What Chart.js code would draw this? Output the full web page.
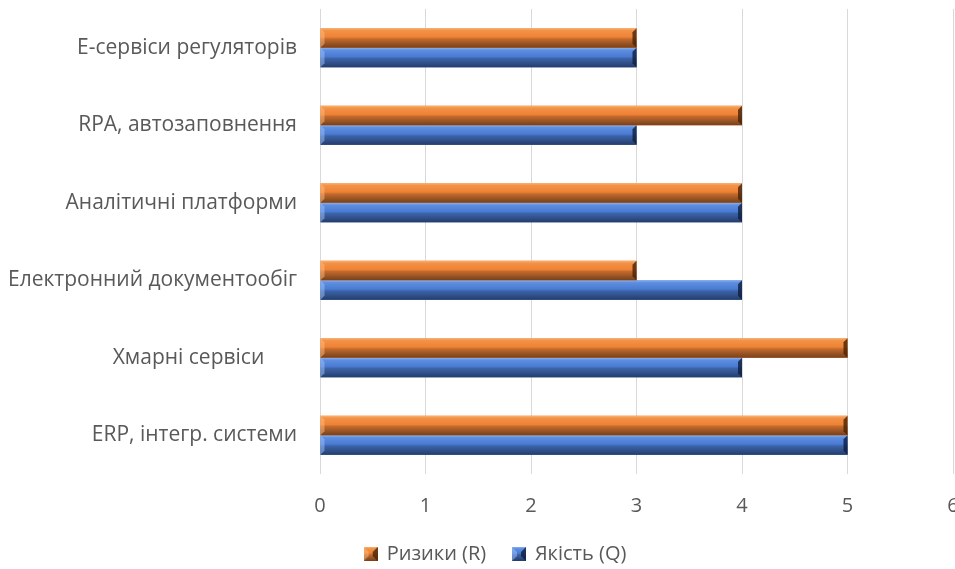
<!DOCTYPE html>
<html>
<head>
<meta charset="utf-8">
<script src="https://cdn.jsdelivr.net/npm/chart.js@4.4.1/dist/chart.umd.min.js"></script>
<style>
    html, body { margin: 0; padding: 0; overflow: hidden; background: #fff; }
    #wrap { width: 955px; height: 574px; }
</style>
</head>
<body>
<div id="wrap"><canvas id="c"></canvas></div>
<script>
// дані
const categories = ['Е-сервіси регуляторів', 'RPA, автозаповнення', 'Аналітичні платформи', 'Електронний документообіг', 'Хмарні сервіси      ', 'ERP, інтегр. системи'];
const risks = [3, 4, 4, 3, 5, 5];
const quality = [3, 3, 4, 4, 4, 5];
const seriesNames = ['Ризики (R)', 'Якість (Q)'];
const xMin = 0, xMax = 6, xStep = 1;

const FONT = '"Open Sans", sans-serif';
const TXT = '#595959';

// відтінки для об'ємного ефекту
const shades = [
    { base: '#ED7D31', stops: ['#F9B477', '#F39245', '#EE8236', '#C46A2C', '#8E4E22', '#7A4019'], lite: 'rgba(255,190,130,0.5)', dark: 'rgba(70,35,10,0.8)' },
    { base: '#4472C4', stops: ['#8DB3F0', '#5D8EE0', '#4A7BD3', '#3C63A8', '#2C4A80', '#233C6A'], lite: 'rgba(160,195,250,0.5)', dark: 'rgba(15,30,60,0.8)' }
];
const stopPos = [0, 0.12, 0.45, 0.55, 0.85, 1];

function paintBevel(ctx, left, top, w, h, s, b) {
    const g = ctx.createLinearGradient(0, top, 0, top + h);
    s.stops.forEach((c, i) => g.addColorStop(stopPos[i], c));
    ctx.fillStyle = g;
    ctx.fillRect(left, top, w, h);
    const right = left + w, bottom = top + h;
    ctx.fillStyle = s.lite;
    ctx.beginPath();
    ctx.moveTo(left, top); ctx.lineTo(left + b, top + b); ctx.lineTo(left + b, bottom - b); ctx.lineTo(left, bottom);
    ctx.closePath(); ctx.fill();
    ctx.fillStyle = s.dark;
    ctx.beginPath();
    ctx.moveTo(right, top); ctx.lineTo(right - b, top + b); ctx.lineTo(right - b, bottom - b); ctx.lineTo(right, bottom);
    ctx.closePath(); ctx.fill();
}

function legendIcon(s) {
    const cv = document.createElement('canvas');
    cv.width = 14; cv.height = 14;
    paintBevel(cv.getContext('2d'), 0, 0, 14, 14, s, 5);
    return cv;
}

const bevel = {
    id: 'bevel',
    afterDatasetDraw(chart, args) {
        const ctx = chart.ctx;
        const s = shades[args.index];
        ctx.save();
        args.meta.data.forEach(bar => {
            const p = bar.getProps(['x', 'y', 'base', 'height'], true);
            const top = p.y - p.height / 2;
            paintBevel(ctx, p.base, top, p.x - p.base, p.height, s, 4);
        });
        ctx.restore();
    }
};

// легенда в Excel трохи правіше центру
const legendShift = {
    id: 'legendShift',
    afterLayout(chart) {
        if (chart.legend) { chart.legend.left += 14; chart.legend.right += 14; }
    }
};

new Chart(document.getElementById('c'), {
    type: 'bar',
    data: {
        labels: categories,
        datasets: [
            { label: seriesNames[0], data: risks, backgroundColor: shades[0].base, borderWidth: 0, pointStyle: legendIcon(shades[0]) },
            { label: seriesNames[1], data: quality, backgroundColor: shades[1].base, borderWidth: 0, pointStyle: legendIcon(shades[1]) }
        ]
    },
    options: {
        indexAxis: 'y',
        responsive: true,
        maintainAspectRatio: false,
        animation: false,
        layout: { padding: { top: 9, left: 10, right: 2, bottom: 0 } },
        datasets: { bar: { categoryPercentage: 0.505, barPercentage: 1.0 } },
        scales: {
            x: {
                min: xMin, max: xMax,
                ticks: { stepSize: xStep, color: TXT, font: { family: FONT, size: 20 }, padding: 20 },
                grid: { color: '#D9D9D9', drawTicks: false },
                border: { display: false },
                afterFit(s) { s.paddingLeft = 0; s.paddingRight = 0; }
            },
            y: {
                ticks: { color: TXT, font: { family: FONT, size: 21 }, padding: 23 },
                grid: { display: false, drawTicks: false },
                border: { display: false },
                afterFit(s) { s.width = 310; s.paddingTop = 0; s.paddingBottom = 0; }
            }
        },
        plugins: {
            legend: {
                position: 'bottom',
                labels: {
                    usePointStyle: true, boxWidth: 12, color: TXT, font: { family: FONT, size: 20 }, padding: 6,
                    generateLabels: (chart) => Chart.defaults.plugins.legend.labels.generateLabels(chart)
                        .map((l, i) => i === 0 ? { ...l, text: l.text + '    ' } : l)
                }
            },
            tooltip: { enabled: false }
        }
    },
    plugins: [bevel, legendShift]
});
</script>
</body>
</html>
